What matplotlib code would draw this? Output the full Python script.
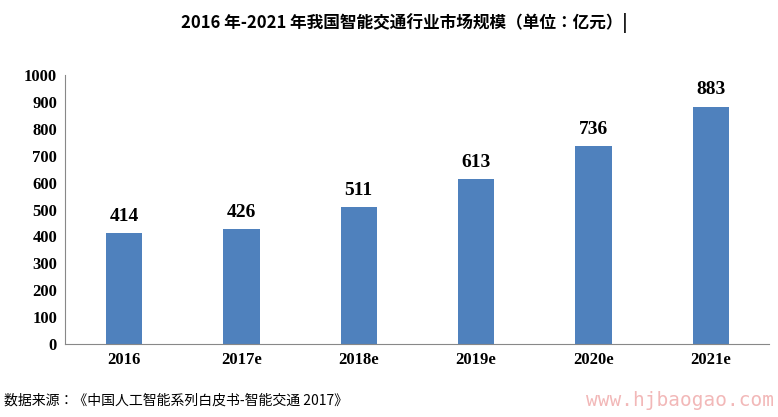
import matplotlib
matplotlib.use("Agg")
import matplotlib.pyplot as plt
from matplotlib import font_manager

years = ["2016", "2017e", "2018e", "2019e", "2020e", "2021e"]
values = [414, 426, 511, 613, 736, 883]
yticks = list(range(0, 1001, 100))

serif = "Liberation Serif"
names = {f.name for f in font_manager.fontManager.ttflist}
cjk = next((n for n in ["Noto Sans CJK SC", "Noto Sans CJK JP", "Noto Serif CJK SC"] if n in names),
           next((n for n in names if "CJK" in n), "DejaVu Sans"))

fig = plt.figure(figsize=(7.78, 4.17), dpi=100)
ax = fig.add_axes([0.084, 0.175, 0.905, 0.645])

bars = ax.bar(range(len(years)), values, width=0.31, color="#4f81bd")
for b, v in zip(bars, values):
    ax.text(b.get_x() + b.get_width() / 2, v + 30, str(v), ha="center", va="bottom",
            fontsize=14, fontweight="bold", fontfamily=serif)

ax.set_xlim(-0.5, len(years) - 0.5)
ax.set_ylim(0, 1000)
ax.set_yticks(yticks)
ax.set_xticks(range(len(years)))
ax.set_xticklabels(years)
for lbl in ax.get_xticklabels() + ax.get_yticklabels():
    lbl.set_fontfamily(serif)
    lbl.set_fontweight("bold")
    lbl.set_fontsize(12)
ax.tick_params(axis="both", length=0, pad=6)
for s in ["top", "right"]:
    ax.spines[s].set_visible(False)
ax.spines["left"].set_color("#888888")
ax.spines["bottom"].set_color("#888888")

fig.text(0.52, 0.945, "2016 年-2021 年我国智能交通行业市场规模（单位：亿元）|", ha="center",
         va="center", fontsize=12, fontweight="bold", fontfamily=cjk)
fig.text(0.005, 0.04, "数据来源：《中国人工智能系列白皮书-智能交通 2017》", ha="left",
         va="center", fontsize=10, fontfamily=cjk)
fig.text(0.995, 0.04, "www.hjbaogao.com", ha="right", va="center", fontsize=14,
         color="#f2b8b8", fontfamily="DejaVu Sans Mono")

fig.savefig("out.png", dpi=100)
